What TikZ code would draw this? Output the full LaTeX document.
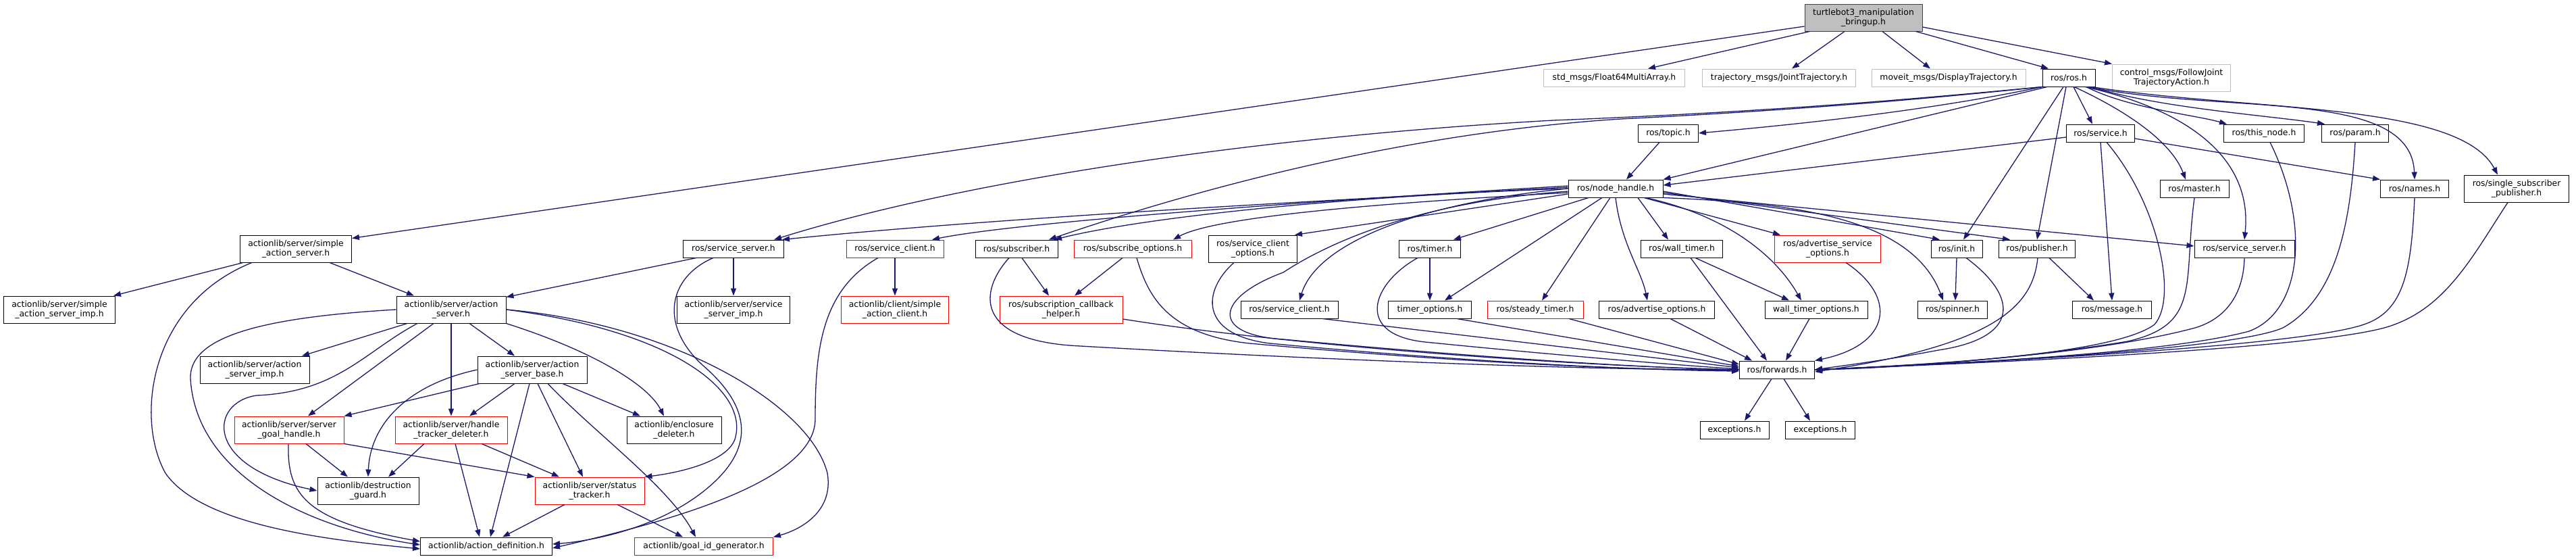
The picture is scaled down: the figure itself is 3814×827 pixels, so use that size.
\documentclass[tikz,border=0pt]{standalone}
\usepackage{fontspec}
\newfontfamily\doxfont{DejaVu Sans}
\usetikzlibrary{arrows.meta}
\definecolor{edgeblue}{HTML}{191970}
\definecolor{missgray}{HTML}{BFBFBF}
\tikzset{
  hdrbox/.style={draw=black, line width=1pt, fill=white, rectangle, align=center,
    inner sep=1pt, minimum height=26, font=\doxfont\fontsize{12.4}{14}\selectfont},
  twoline/.style={minimum height=40},
  missbox/.style={hdrbox, draw=missgray},
  redbox/.style={hdrbox, draw=red},
  rootbox/.style={hdrbox, fill=missgray, draw=black!75},
  dep/.style={draw=edgeblue, line width=1.3pt, -{Triangle[length=11pt,width=8pt]}},
}
\begin{document}
\begin{tikzpicture}[x=1pt,y=-1pt]
\useasboundingbox (0,0) rectangle (3814,827);

% Draw the include file and its direct includes
\node[rootbox, twoline, minimum width=174] (main) at (2759,26) {turtlebot3\_manipulation\\\_bringup.h};
\node[missbox, minimum width=209] (f64) at (2390,115) {std\_msgs/Float64MultiArray.h};
\node[missbox, minimum width=227] (jtraj) at (2634,115) {trajectory\_msgs/JointTrajectory.h};
\node[missbox, minimum width=228] (disptraj) at (2885,115) {moveit\_msgs/DisplayTrajectory.h};
\node[hdrbox, minimum width=78] (rosh) at (3063,115) {ros/ros.h};
\node[missbox, twoline, minimum width=175] (fjt) at (3215,115) {control\_msgs/FollowJoint\\TrajectoryAction.h};

% Draw ros headers
\node[hdrbox, minimum width=89] (topic) at (2470,197) {ros/topic.h};
\node[hdrbox, minimum width=101] (service) at (3110,197) {ros/service.h};
\node[hdrbox, minimum width=119] (thisnode) at (3352,197) {ros/this\_node.h};
\node[hdrbox, minimum width=99] (param) at (3487,197) {ros/param.h};
\node[hdrbox, minimum width=140] (nodehandle) at (2392,279) {ros/node\_handle.h};
\node[hdrbox, minimum width=102] (master) at (3249,279) {ros/master.h};
\node[hdrbox, minimum width=101] (names) at (3575,279) {ros/names.h};
\node[hdrbox, twoline, minimum width=155] (singlesub) at (3726,279) {ros/single\_subscriber\\\_publisher.h};

\node[hdrbox, twoline, minimum width=165] (simpleas) at (438,368) {actionlib/server/simple\\\_action\_server.h};
\node[hdrbox, minimum width=149] (srvserverL) at (1086,368) {ros/service\_server.h};
\node[redbox, minimum width=144] (srvclientR) at (1325,368) {ros/service\_client.h};
\node[hdrbox, minimum width=122] (subscriber) at (1505,368) {ros/subscriber.h};
\node[redbox, minimum width=174] (subopts) at (1677,368) {ros/subscribe\_options.h};
\node[hdrbox, twoline, minimum width=131] (srvclientopts) at (1855,368) {ros/service\_client\\\_options.h};
\node[hdrbox, minimum width=91] (timer) at (2117,368) {ros/timer.h};
\node[hdrbox, minimum width=121] (walltimer) at (2490,368) {ros/wall\_timer.h};
\node[redbox, twoline, minimum width=157] (advsrvopts) at (2706,368) {ros/advertise\_service\\\_options.h};
\node[hdrbox, minimum width=76] (init) at (2897,368) {ros/init.h};
\node[hdrbox, minimum width=113] (publisher) at (3016,368) {ros/publisher.h};
\node[hdrbox, minimum width=148] (srvserverR) at (3323,368) {ros/service\_server.h};

\node[hdrbox, twoline, minimum width=165] (simpleasimp) at (88,458) {actionlib/server/simple\\\_action\_server\_imp.h};
\node[hdrbox, twoline, minimum width=162] (actionserver) at (668,458) {actionlib/server/action\\\_server.h};
\node[hdrbox, twoline, minimum width=167] (srvserverimp) at (1086,458) {actionlib/server/service\\\_server\_imp.h};
\node[redbox, twoline, minimum width=159] (simpleac) at (1325,458) {actionlib/client/simple\\\_action\_client.h};
\node[redbox, twoline, minimum width=182] (subcbhelper) at (1571,458) {ros/subscription\_callback\\\_helper.h};
\node[hdrbox, minimum width=144] (srvclient) at (1909,458) {ros/service\_client.h};
\node[hdrbox, minimum width=123] (timeropts) at (2117,458) {timer\_options.h};
\node[redbox, minimum width=142] (steadytimer) at (2273,458) {ros/steady\_timer.h};
\node[hdrbox, minimum width=171] (advopts) at (2453,458) {ros/advertise\_options.h};
\node[hdrbox, minimum width=152] (walltimeropts) at (2689,458) {wall\_timer\_options.h};
\node[hdrbox, minimum width=103] (spinner) at (2891,458) {ros/spinner.h};
\node[hdrbox, minimum width=117] (message) at (3127,458) {ros/message.h};

% Draw actionlib headers
\node[hdrbox, twoline, minimum width=162] (asimp) at (377,547) {actionlib/server/action\\\_server\_imp.h};
\node[hdrbox, twoline, minimum width=162] (asbase) at (788,547) {actionlib/server/action\\\_server\_base.h};
\node[hdrbox, minimum width=111] (forwards) at (2631,547) {ros/forwards.h};
\node[redbox, twoline, minimum width=162] (goalhandle) at (428,636) {actionlib/server/server\\\_goal\_handle.h};
\node[redbox, twoline, minimum width=166] (htdeleter) at (668,636) {actionlib/server/handle\\\_tracker\_deleter.h};
\node[hdrbox, twoline, minimum width=140] (enclosure) at (998,636) {actionlib/enclosure\\\_deleter.h};
\node[hdrbox, minimum width=102] (exc1) at (2568,636) {exceptions.h};
\node[hdrbox, minimum width=103] (exc2) at (2695,636) {exceptions.h};
\node[hdrbox, twoline, minimum width=150] (dguard) at (545,726) {actionlib/destruction\\\_guard.h};
\node[redbox, twoline, minimum width=162] (statustracker) at (873,726) {actionlib/server/status\\\_tracker.h};
\node[hdrbox, minimum width=195] (actiondef) at (720,808) {actionlib/action\_definition.h};
\node[redbox, minimum width=205] (goalid) at (1042,808) {actionlib/goal\_id\_generator.h};

% Edges from the include file
\draw[dep] ([yshift=-13]main.west) -- ([yshift=-5]simpleas.north east);
\draw[dep] ([xshift=8]main.south west) -- ([xshift=50]f64.north);
\draw[dep] ([xshift=-28]main.south) -- ([xshift=19]jtraj.north);
\draw[dep] ([xshift=28]main.south) -- ([xshift=-27]disptraj.north);
\draw[dep] ([xshift=-10]main.south east) -- ([xshift=-30]rosh.north);
\draw[dep] ([yshift=-14]main.east) -- (fjt.north west);

% Edges of the action server
\draw[dep] ([xshift=-78]simpleas.south) -- ([xshift=-3]simpleasimp.north east);
\draw[dep] ([xshift=50]simpleas.south) -- ([xshift=-55]actionserver.north);
\draw[dep] ([xshift=-65]simpleas.south) .. controls (220,450) and (200,620) .. (245,700) .. controls (300,780) and (500,800) .. ([yshift=-4]actiondef.west);
\draw[dep] (actionserver.west) .. controls (380,470) and (280,500) .. (282,560) .. controls (290,700) and (450,780) .. ([yshift=2]actiondef.west);
\draw[dep] ([xshift=-50]actionserver.south) .. controls (540,520) and (500,580) .. (380,585) .. controls (310,595) and (300,690) .. (dguard.west);
\draw[dep] ([xshift=-65]actionserver.south) -- ([xshift=70]asimp.north);
\draw[dep] ([xshift=-26]actionserver.south) -- ([xshift=28]goalhandle.north);
\draw[dep] (actionserver.south) -- (htdeleter.north);
\draw[dep] ([xshift=27]actionserver.south) -- ([xshift=-26]asbase.north);
\draw[dep] (actionserver.south east) .. controls (880,520) and (960,570) .. ([xshift=-15]enclosure.north);
\draw[dep] (actionserver.east) .. controls (1000,490) and (1110,580) .. (1088,650) .. controls (1075,685) and (1000,700) .. (statustracker.north east);
\draw[dep] (actionserver.east) .. controls (1000,480) and (1200,600) .. (1225,700) .. controls (1235,760) and (1180,785) .. (goalid.north east);

\draw[dep] (asbase.west) .. controls (600,570) and (548,630) .. (dguard.north);
\draw[dep] ([xshift=-78]asbase.south) -- (goalhandle.north east);
\draw[dep] ([xshift=-26]asbase.south) -- ([xshift=27]htdeleter.north);
\draw[dep] ([xshift=-4]asbase.south) -- ([xshift=6]actiondef.north);
\draw[dep] ([xshift=8]asbase.south) -- ([xshift=-10]statustracker.north);
\draw[dep] ([xshift=23]asbase.south) .. controls (880,640) and (990,720) .. ([xshift=-12]goalid.north);
\draw[dep] ([xshift=45]asbase.south) -- ([xshift=-50]enclosure.north);

\draw[dep] ([xshift=25]goalhandle.south) -- ([xshift=-30]dguard.north);
\draw[dep] (goalhandle.south east) -- (statustracker.north west);
\draw[dep] ([xshift=-1]goalhandle.south) .. controls (425,730) and (450,770) .. ([yshift=7]actiondef.west);
\draw[dep] ([xshift=-40]htdeleter.south) -- ([xshift=30]dguard.north);
\draw[dep] ([xshift=6]htdeleter.south) -- ([xshift=-10]actiondef.north);
\draw[dep] ([xshift=45]htdeleter.south) -- ([xshift=-45]statustracker.north);
\draw[dep] ([xshift=-37]statustracker.south) -- ([xshift=24]actiondef.north);
\draw[dep] ([xshift=41]statustracker.south) -- ([xshift=-31]goalid.north);

% Service server and client
\draw[dep] ([xshift=-55]srvserverL.south) -- ([yshift=-2]actionserver.north east);
\draw[dep] (srvserverL.south) -- (srvserverimp.north);
\draw[dep] ([xshift=-30]srvserverL.south) .. controls (990,410) and (975,480) .. (1040,540) .. controls (1110,600) and (1120,660) .. (1050,720) .. controls (980,780) and (880,800) .. ([yshift=3]actiondef.east);
\draw[dep] (srvclientR.south) -- (simpleac.north);
\draw[dep] ([xshift=-25]srvclientR.south) .. controls (1215,430) and (1207,520) .. (1207,620) .. controls (1207,720) and (950,780) .. ([yshift=-3]actiondef.east);

% Edges of ros/ros.h
\draw[dep] (rosh.south west) .. controls (2850,165) and (2650,185) .. (topic.east);
\draw[dep] ([xshift=-32]rosh.south) -- (nodehandle.north east);
\draw[dep] (rosh.south west) .. controls (2800,150) and (2600,166) .. (2300,178) .. controls (1900,200) and (1450,260) .. ([xshift=60]srvserverL.north);
\draw[dep] (rosh.south west) .. controls (2800,152) and (2600,166) .. (2400,176) .. controls (2100,195) and (1800,270) .. ([xshift=48]subscriber.north);
\draw[dep] ([xshift=7]rosh.south) -- ([xshift=-12]service.north);
\draw[dep] ([xshift=26]rosh.south) .. controls (3150,160) and (3250,170) .. ([xshift=-55]thisnode.north);
\draw[dep] ([xshift=32]rosh.south) .. controls (3200,160) and (3350,170) .. ([xshift=-45]param.north);
\draw[dep] ([xshift=8]rosh.south) .. controls (3150,165) and (3215,210) .. ([xshift=-13]master.north);
\draw[dep] ([xshift=24]rosh.south) .. controls (3250,165) and (3335,240) .. (srvserverR.north);
\draw[dep] ([xshift=28]rosh.south) .. controls (3300,170) and (3570,130) .. (names.north);
\draw[dep] ([xshift=34]rosh.south) .. controls (3330,165) and (3640,150) .. ([xshift=-28]singlesub.north);
\draw[dep] ([xshift=-8]rosh.south) -- ([xshift=10]init.north);
\draw[dep] ([xshift=-4]rosh.south) -- (publisher.north);

\draw[dep] ([xshift=-13]topic.south) -- ([xshift=16]nodehandle.north);
\draw[dep] ([yshift=-6]service.west) -- ([yshift=5]nodehandle.east);
\draw[dep] ([yshift=-8]service.east) -- (names.north west);
\draw[dep] (service.south) -- (message.north);

% Edges of ros/node_handle.h
\draw[dep] ([yshift=2]nodehandle.west) .. controls (2000,295) and (1500,320) .. ([xshift=72]srvserverL.north);
\draw[dep] ([yshift=4]nodehandle.west) .. controls (1900,300) and (1500,330) .. ([xshift=55]srvclientR.north);
\draw[dep] (nodehandle.west) .. controls (2000,290) and (1700,320) .. ([xshift=56]subscriber.north);
\draw[dep] ([yshift=-6]nodehandle.west) .. controls (2050,300) and (1800,320) .. ([xshift=60]subopts.north);
\draw[dep] ([yshift=-8]nodehandle.west) -- ([xshift=-4]srvclientopts.north east);
\draw[dep] (nodehandle.west) .. controls (2100,300) and (1950,360) .. ([xshift=15]srvclient.north);
\draw[dep] ([yshift=-4]nodehandle.west) .. controls (2080,300) and (1950,370) .. (1900,403) .. controls (1800,440) and (1790,495) .. (1900,502) .. controls (2200,530) and (2450,545) .. (forwards.west);
\draw[dep] ([xshift=-40]nodehandle.south) -- ([xshift=35]timer.north);
\draw[dep] ([xshift=-20]nodehandle.south) -- ([xshift=22]timeropts.north);
\draw[dep] ([xshift=-8]nodehandle.south) -- ([xshift=10]steadytimer.north);
\draw[dep] (nodehandle.south) .. controls (2400,360) and (2430,400) .. ([xshift=-14]advopts.north);
\draw[dep] ([xshift=33]nodehandle.south) -- ([xshift=-20]walltimer.north);
\draw[dep] ([xshift=45]nodehandle.south) .. controls (2560,320) and (2630,380) .. ([xshift=-22]walltimeropts.north);
\draw[dep] ([xshift=42]nodehandle.south) -- ([xshift=-70]advsrvopts.north);
\draw[dep] ([yshift=-4]nodehandle.east) -- ([xshift=-25]init.north);
\draw[dep] ([yshift=-6]nodehandle.east) -- ([xshift=-40]publisher.north);
\draw[dep] ([yshift=-8]nodehandle.east) -- ([yshift=4]srvserverR.west);
\draw[dep] (nodehandle.south east) .. controls (2650,300) and (2830,320) .. ([xshift=-14]spinner.north);

% Subscriber side
\draw[dep] ([xshift=8]subscriber.south) -- ([xshift=-18]subcbhelper.north);
\draw[dep] ([xshift=-15]subopts.south) -- ([xshift=20]subcbhelper.north);
\draw[dep] ([xshift=-11]subscriber.south) .. controls (1450,430) and (1440,505) .. (1600,512) .. controls (2000,535) and (2400,548) .. (forwards.west);
\draw[dep] ([xshift=6]subopts.south) .. controls (1700,440) and (1730,495) .. (1850,508) .. controls (2200,540) and (2450,548) .. (forwards.west);
\draw[dep] ([yshift=-14]subcbhelper.east) .. controls (1900,510) and (2300,540) .. (forwards.west);
\draw[dep] ([xshift=-28]srvclientopts.south) .. controls (1780,430) and (1775,495) .. (1880,508) .. controls (2200,538) and (2450,548) .. ([yshift=-2]forwards.west);

% Timers and options
\draw[dep] (timer.south) -- (timeropts.north);
\draw[dep] ([xshift=-18]timer.south) .. controls (2030,420) and (2005,495) .. (2110,506) .. controls (2300,525) and (2480,540) .. ([yshift=1]forwards.west);
\draw[dep] ([xshift=49]srvclient.south) -- ([yshift=3]forwards.west);
\draw[dep] ([xshift=40]timeropts.south) -- ([yshift=5]forwards.west);
\draw[dep] ([xshift=50]steadytimer.south) -- ([yshift=8]forwards.west);
\draw[dep] ([xshift=20]advopts.south) -- ([xshift=-37]forwards.north);
\draw[dep] ([xshift=20]walltimer.south) -- ([xshift=-40]walltimeropts.north);
\draw[dep] ([xshift=13]walltimer.south) -- ([xshift=-15]forwards.north);
\draw[dep] ([xshift=-10]walltimeropts.south) -- ([xshift=13]forwards.north);
\draw[dep] ([xshift=27]advsrvopts.south) .. controls (2810,440) and (2800,510) .. (forwards.north east);

% Right hand headers into ros/forwards.h
\draw[dep] (init.south) -- ([xshift=4]spinner.north);
\draw[dep] ([xshift=14]init.south) .. controls (2990,440) and (2990,500) .. (2870,518) .. controls (2780,535) and (2720,542) .. (forwards.east);
\draw[dep] ([xshift=1]publisher.south) .. controls (3010,450) and (2960,510) .. ([yshift=-3]forwards.east);
\draw[dep] ([xshift=18]publisher.south) -- ([xshift=-27]message.north);
\draw[dep] ([xshift=9]service.south) .. controls (3195,300) and (3225,440) .. (3190,480) .. controls (3130,525) and (2850,540) .. (forwards.east);
\draw[dep] (master.south) .. controls (3232,420) and (3260,480) .. (3150,505) .. controls (3000,530) and (2800,545) .. (forwards.east);
\draw[dep] (srvserverR.south) .. controls (3322,430) and (3300,470) .. (3250,485) .. controls (3100,525) and (2850,540) .. (forwards.east);
\draw[dep] ([xshift=9]thisnode.south) .. controls (3420,330) and (3410,460) .. (3330,490) .. controls (3200,525) and (2850,540) .. (forwards.east);
\draw[dep] (param.south) .. controls (3480,330) and (3460,440) .. (3380,485) .. controls (3300,520) and (2850,540) .. (forwards.east);
\draw[dep] (names.south) .. controls (3570,400) and (3560,460) .. (3500,480) .. controls (3400,515) and (2850,540) .. (forwards.east);
\draw[dep] ([xshift=-13]singlesub.south) .. controls (3660,380) and (3620,460) .. (3530,485) .. controls (3400,520) and (2850,540) .. (forwards.east);

% ros/forwards.h includes
\draw[dep] ([xshift=-8]forwards.south) -- ([xshift=15]exc1.north);
\draw[dep] ([xshift=10]forwards.south) -- ([xshift=-15]exc2.north);
\end{tikzpicture}
\end{document}
